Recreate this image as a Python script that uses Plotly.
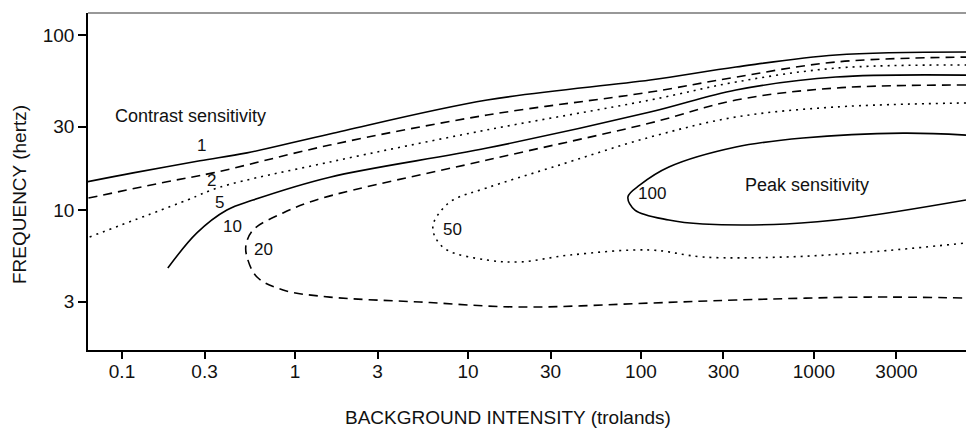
import numpy as np
import plotly.graph_objects as go

# ---- data (x: background intensity in trolands, y: frequency in Hz)
cs1_x = [0.063, 0.116, 0.282, 0.528, 1.59, 12.9, 113, 354, 1340, 7570]
cs1_y = [14.5, 16.3, 19.1, 21.2, 27.2, 42.5, 55.3, 65.6, 76.9, 79.9]

cs2_x = [0.064, 0.182, 0.336, 1.59, 12.9, 113, 354, 1340, 7570]
cs2_y = [11.7, 14.5, 16.3, 23.5, 34.9, 47.2, 57.5, 70.1, 74.8]

cs5_x = [0.065, 0.238, 0.368, 1.59, 12.9, 113, 354, 1340, 7570]
cs5_y = [7.02, 11.4, 13.5, 18.8, 28.7, 42.5, 53.9, 64.7, 67.4]

cs10_x = [0.184, 0.271, 0.404, 0.572, 1.59, 12.9, 113, 354, 1340, 7570]
cs10_y = [4.66, 7.40, 10.0, 11.4, 15.4, 22.6, 36.3, 48.5, 57.5, 59.0]

cs20_x = [7570, 1340, 354, 113, 12.9, 1.40, 0.853, 0.572, 0.521, 0.528, 0.603, 0.853,
          1.59, 5.28, 20.0, 113, 354, 2080, 7570]
cs20_y = [51.8, 49.8, 42.5, 31.4, 19.3, 11.6, 9.62, 7.69, 6.31, 5.39, 4.14, 3.49,
          3.18, 2.98, 2.79, 2.94, 3.06, 3.18, 3.14]

cs50_x = [7570, 1340, 354, 113, 31.0, 12.9, 8.19, 6.89, 6.28, 6.45, 7.56, 12.9,
          20.0, 38.9, 113, 228, 689, 2080, 7570]
cs50_y = [40.9, 38.8, 34.0, 26.1, 17.6, 13.4, 11.4, 9.74, 8.21, 7.02, 5.91, 5.18,
          5.05, 5.53, 5.91, 5.39, 5.39, 5.75, 6.48]

cs100_x = [7570, 3270, 864, 354, 145, 98.7, 84.1, 92.3, 145, 228, 689, 1680, 7570]
cs100_y = [26.8, 27.5, 25.8, 22.9, 17.6, 13.9, 11.9, 10.0, 8.77, 8.32, 8.32, 9.0, 11.4]

x_tick_vals = [0.1, 0.3, 1, 3, 10, 30, 100, 300, 1000, 3000]
x_tick_text = ["0.1", "0.3", "1", "3", "10", "30", "100", "300", "1000", "3000"]
y_tick_vals = [3, 10, 30, 100]
y_tick_text = ["3", "10", "30", "100"]

label_text = ["1", "2", "5", "10", "20", "50", "100"]
label_x = [0.29, 0.331, 0.364, 0.438, 0.662, 8.09, 116]
label_y = [23.5, 14.7, 11.1, 8.0, 5.98, 7.78, 12.5]

x_range = [0.0636, 7570]
y_range = [1.585, 133.6]

FONT = "Liberation Sans, Arial, Helvetica, sans-serif"
INK = "#111111"
DASH = "9px,6px"
DOT = "2px,5px"

series = [
    (cs1_x, cs1_y, "solid"),
    (cs2_x, cs2_y, DASH),
    (cs5_x, cs5_y, DOT),
    (cs10_x, cs10_y, "solid"),
    (cs20_x, cs20_y, DASH),
    (cs50_x, cs50_y, DOT),
    (cs100_x, cs100_y, "solid"),
]

fig = go.Figure()
for xs, ys, dash in series:
    fig.add_trace(go.Scatter(
        x=xs, y=ys, mode="lines",
        line=dict(color="black", width=1.6, dash=dash, shape="spline", smoothing=1.0),
        showlegend=False, hoverinfo="skip"))

annotations = []
for t, lx, ly in zip(label_text, label_x, label_y):
    annotations.append(dict(x=np.log10(lx), y=np.log10(ly), xref="x", yref="y",
                            text=t, showarrow=False,
                            font=dict(family=FONT, size=17, color=INK)))
annotations.append(dict(x=np.log10(0.0887), y=np.log10(34.4), xref="x", yref="y",
                        text="Contrast sensitivity", showarrow=False, xanchor="left",
                        font=dict(family=FONT, size=18, color=INK)))
annotations.append(dict(x=np.log10(911), y=np.log10(13.9), xref="x", yref="y",
                        text="Peak sensitivity", showarrow=False,
                        font=dict(family=FONT, size=18, color=INK)))
annotations.append(dict(x=-0.0774, y=0.46, xref="paper", yref="paper",
                        xanchor="center", yanchor="middle",
                        text="FREQUENCY (hertz)", showarrow=False, textangle=-90,
                        font=dict(family=FONT, size=19, color=INK)))
annotations.append(dict(x=0.478, y=-0.199, xref="paper", yref="paper",
                        xanchor="center", yanchor="middle",
                        text="BACKGROUND INTENSITY (trolands)", showarrow=False,
                        font=dict(family=FONT, size=19, color=INK)))

fig.update_layout(
    width=966, height=430,
    margin=dict(l=88, r=0, t=13, b=80),
    paper_bgcolor="white", plot_bgcolor="white",
    annotations=annotations,
    shapes=[dict(type="line", xref="paper", yref="paper", x0=0, x1=1, y0=1, y1=1,
                 line=dict(color="#333333", width=1.2))],
)
fig.update_xaxes(type="log", range=[np.log10(x_range[0]), np.log10(x_range[1])],
                 tickvals=x_tick_vals, ticktext=x_tick_text,
                 ticks="outside", ticklen=7, tickwidth=1.5, tickcolor="black",
                 ticklabelstandoff=-4,
                 showline=True, linecolor="black", linewidth=1.6,
                 showgrid=False, zeroline=False,
                 tickfont=dict(family=FONT, size=19, color=INK))
fig.update_yaxes(type="log", range=[np.log10(y_range[0]), np.log10(y_range[1])],
                 tickvals=y_tick_vals, ticktext=y_tick_text,
                 ticks="outside", ticklen=8, tickwidth=1.5, tickcolor="black",
                 showline=True, linecolor="black", linewidth=1.6,
                 showgrid=False, zeroline=False,
                 tickfont=dict(family=FONT, size=19, color=INK))

fig.write_html("out.html", config={"displayModeBar": False},
               post_script="document.body.style.margin='0';document.body.style.overflow='hidden';")
